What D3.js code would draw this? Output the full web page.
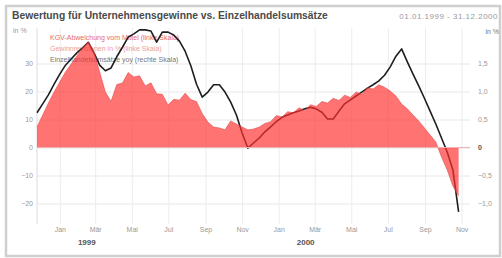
<!DOCTYPE html>
<html>
<head>
<meta charset="utf-8">
<script src="https://cdn.jsdelivr.net/npm/d3@7"></script>
<style>
  body { margin: 0; background: #fff; }
  svg { display: block; font-family: "Liberation Sans", Arial, sans-serif; }
</style>
</head>
<body>
<svg id="chart" width="502" height="258"></svg>
<script>
// ---- data ----
const title = "Bewertung für Unternehmensgewinne vs. Einzelhandelsumsätze";
const period = "01.01.1999 - 31.12.2000";
const startDate = "1998-11-24";
const stepHours = 228;   // spacing of the observations

// KGV-Abweichung, linke Skala (red area)
const kgv = [7.3, 11.6, 15.9, 19.8, 23.4, 27.0, 29.8, 32.7, 35.5, 37.7,
  34.1, 27.0, 19.8, 16.5, 22.5, 23.0, 26.8, 25.2, 25.6, 22.0,
  23.1, 19.2, 19.0, 15.2, 17.2, 16.9, 19.4, 17.1, 16.4, 12.1,
  9.1, 7.3, 7.0, 6.3, 9.5, 8.4, 7.3, 6.3, 6.6, 7.3,
  8.6, 9.2, 11.4, 10.9, 12.8, 12.4, 14.2, 13.1, 15.3, 14.6,
  16.4, 15.9, 17.6, 16.8, 18.7, 17.9, 19.8, 19.0, 21.3, 20.9,
  22.4, 21.5, 20.2, 18.4, 15.5, 13.8, 11.6, 9.5, 7.0, 4.5,
  2.0, -3.4, -8.0, -13.8, -17.3];

// Einzelhandelsumsätze, rechte Skala (black line)
const sales = [0.62, 0.78, 0.94, 1.13, 1.31, 1.47, 1.58, 1.69, 1.78, 1.88,
  1.69, 1.47, 1.37, 1.42, 1.62, 1.79, 1.97, 2.03, 2.10, 2.10,
  2.08, 1.88, 2.06, 2.06, 2.01, 1.90, 1.72, 1.46, 1.13, 0.90,
  0.99, 1.12, 1.12, 0.99, 0.81, 0.58, 0.26, -0.01, 0.08, 0.17,
  0.28, 0.37, 0.46, 0.54, 0.58, 0.62, 0.65, 0.69, 0.72, 0.69,
  0.63, 0.51, 0.51, 0.65, 0.78, 0.85, 0.92, 0.99, 1.06, 1.12,
  1.19, 1.29, 1.44, 1.63, 1.76, 1.53, 1.31, 1.10, 0.88, 0.65,
  0.42, 0.17, -0.08, -0.40, -1.15];

const leftTicks = [-20, -10, 0, 10, 20, 30];
const rightTicks = [-1.0, -0.5, 0, 0.5, 1.0, 1.5];
const xTicks = ["1999-01-01", "1999-03-01", "1999-05-01", "1999-07-01", "1999-09-01", "1999-11-01",
  "2000-01-01", "2000-03-01", "2000-05-01", "2000-07-01", "2000-09-01", "2000-11-01"];
const monthNames = ["Jan", "Feb", "Mär", "Apr", "Mai", "Jun", "Jul", "Aug", "Sep", "Okt", "Nov", "Dez"];
const years = ["1999", "2000"];
const legendItems = [
  { label: "KGV-Abweichung vom Mittel (linke Skala)", color: "#e86a6a" },
  { label: "Gewinnrevisionen in % (linke Skala)", color: "#e9a0a0" },
  { label: "Einzelhandelsumsätze yoy (rechte Skala)", color: "#777" }
];

// ---- layout ----
const svg = d3.select("#chart"),
    W = +svg.attr("width"), H = +svg.attr("height"),
    plot = { left: 37, right: 470, top: 28, bottom: 224 };

const parse = d3.utcParse("%Y-%m-%d");
const t0 = parse(startDate);
const dateAt = i => d3.utcHour.offset(t0, i * stepHours);

const x = d3.scaleUtc()
    .domain([t0, parse("2000-11-15")])
    .range([plot.left, plot.right]);
const yL = d3.scaleLinear().domain([-27.32, 42.68]).range([plot.bottom, plot.top]);
const yR = d3.scaleLinear().domain([-1.366, 2.134]).range([plot.bottom, plot.top]);

// frame + header
svg.append("rect")
    .attr("x", 6).attr("y", 6).attr("width", W - 8).attr("height", H - 8)
    .attr("fill", "#fff").attr("stroke", "#cfcfcf").attr("stroke-width", 2.5);

svg.append("text")
    .attr("x", 12).attr("y", 19)
    .attr("font-size", 10.3).attr("font-weight", "bold").attr("fill", "#4a4a4a")
    .text(title);

svg.append("text")
    .attr("x", W - 4).attr("y", 19).attr("text-anchor", "end")
    .attr("font-size", 8).attr("letter-spacing", 0.5).attr("fill", "#9a9a9a")
    .text(period);

// grid
const g = svg.append("g");

g.append("g")
    .attr("transform", `translate(${plot.left},0)`)
    .call(d3.axisLeft(yL).tickValues(leftTicks).tickSize(-(plot.right - plot.left)).tickFormat(""))
    .call(a => a.select(".domain").remove())
    .call(a => a.selectAll("line").attr("stroke", "#e8e8e8"));

g.append("g")
    .attr("transform", `translate(0,${plot.bottom})`)
    .call(d3.axisBottom(x).tickValues(xTicks.map(parse)).tickSize(-(plot.bottom - plot.top)).tickFormat(""))
    .call(a => a.select(".domain").remove())
    .call(a => a.selectAll("line").attr("stroke", "#ececec"));

g.append("line")
    .attr("x1", plot.left).attr("x2", plot.left)
    .attr("y1", plot.top).attr("y2", plot.bottom)
    .attr("stroke", "#dcdcdc");

// legend (sits under the marks like in the original)
legendItems.forEach((d, i) => {
  g.append("text")
      .attr("x", 50).attr("y", 40 + i * 11)
      .attr("font-size", 7).attr("fill", d.color)
      .text(d.label);
});

// black line, right scale
const line = d3.line()
    .x((d, i) => x(dateAt(i)))
    .y(d => yR(d));

g.append("path")
    .datum(sales)
    .attr("d", line)
    .attr("fill", "none")
    .attr("stroke", "#1e1e1e")
    .attr("stroke-width", 1.6)
    .attr("stroke-linejoin", "round");

// red area on top, semi transparent
const area = d3.area()
    .x((d, i) => x(dateAt(i)))
    .y0(yL(0))
    .y1(d => yL(d));

g.append("path")
    .datum(kgv)
    .attr("d", area)
    .attr("fill", "#ff3030")
    .attr("fill-opacity", 0.68);

g.append("path")
    .datum(kgv)
    .attr("d", d3.line().x((d, i) => x(dateAt(i))).y(d => yL(d)))
    .attr("fill", "none")
    .attr("stroke", "#e04848")
    .attr("stroke-opacity", 0.7)
    .attr("stroke-width", 0.8);

// zero line
g.append("line")
    .attr("x1", plot.left).attr("x2", plot.right)
    .attr("y1", yL(0)).attr("y2", yL(0))
    .attr("stroke", "#f3b0b0").attr("stroke-width", 1);

// axes labels
const fmtR = d3.format(".1f");

svg.append("g")
    .attr("transform", `translate(${plot.left - 4},0)`)
    .call(d3.axisLeft(yL).tickValues(leftTicks).tickSize(0).tickPadding(0))
    .call(a => a.select(".domain").remove())
    .call(a => a.selectAll("text").attr("font-size", 7).attr("fill", "#999").attr("font-family", null));

svg.append("g")
    .attr("transform", `translate(${plot.right + 8},0)`)
    .call(d3.axisRight(yR).tickValues(rightTicks).tickSize(0).tickPadding(0)
      .tickFormat(d => d === 0 ? "0" : fmtR(d).replace(".", ",")))
    .call(a => a.select(".domain").remove())
    .call(a => a.selectAll("text").attr("font-size", 7).attr("fill", "#999").attr("font-family", null))
    .call(a => a.selectAll("text").filter(d => d === 0).attr("fill", "#555").attr("font-weight", "bold"));

svg.append("text")
    .attr("x", 13).attr("y", 33).attr("font-size", 7).attr("fill", "#999").text("in %");
svg.append("text")
    .attr("x", W - 3).attr("y", 34).attr("text-anchor", "end")
    .attr("font-size", 7).attr("fill", "#777").text("in %");

svg.append("g")
    .attr("transform", `translate(0,${plot.bottom + 2})`)
    .call(d3.axisBottom(x).tickValues(xTicks.map(parse)).tickSize(0).tickPadding(1)
      .tickFormat(d => monthNames[d.getUTCMonth()]))
    .call(a => a.select(".domain").remove())
    .call(a => a.selectAll("text").attr("font-size", 7).attr("fill", "#999").attr("font-family", null));

years.forEach(yr => {
  svg.append("text")
      .attr("x", x(parse(yr + "-02-15"))).attr("y", 245)
      .attr("text-anchor", "middle")
      .attr("font-size", 8).attr("font-weight", "bold").attr("fill", "#555")
      .text(yr);
});
</script>
</body>
</html>
